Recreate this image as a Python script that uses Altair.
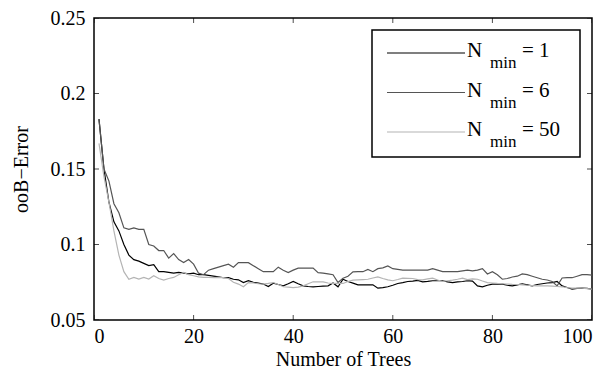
import altair as alt
import pandas as pd

# ---- data ----
trees = list(range(1, 101))

err_n1 = [0.183, 0.150, 0.128, 0.115, 0.109, 0.100, 0.093, 0.090, 0.089, 0.0875,
          0.086, 0.0866, 0.082, 0.082, 0.0815, 0.081, 0.0815, 0.081, 0.0805, 0.081,
          0.080, 0.080, 0.0795, 0.079, 0.0785, 0.078, 0.078, 0.077, 0.0766, 0.0748,
          0.076, 0.075, 0.0745, 0.0738, 0.0722, 0.0744, 0.0735, 0.0726, 0.074, 0.0755,
          0.074, 0.0726, 0.0722, 0.072, 0.0722, 0.0724, 0.0726, 0.0745, 0.072, 0.077,
          0.0755, 0.0744, 0.0733, 0.0733, 0.0733, 0.0733, 0.0711, 0.0715, 0.072, 0.073,
          0.0742, 0.0748, 0.0755, 0.0758, 0.0762, 0.0753, 0.0756, 0.076, 0.076, 0.076,
          0.0752, 0.0748, 0.0752, 0.0755, 0.076, 0.0758, 0.0726, 0.072, 0.073, 0.0737,
          0.0737, 0.0737, 0.073, 0.0726, 0.0733, 0.074, 0.0733, 0.0726, 0.0735, 0.074,
          0.0745, 0.0748, 0.0755, 0.0726, 0.0715, 0.0705, 0.071, 0.0711, 0.071, 0.0705]

err_n6 = [0.183, 0.150, 0.142, 0.127, 0.121, 0.111, 0.110, 0.111, 0.110, 0.110,
          0.100, 0.099, 0.096, 0.096, 0.091, 0.094, 0.090, 0.088, 0.090, 0.087,
          0.081, 0.080, 0.083, 0.084, 0.085, 0.086, 0.087, 0.085, 0.088, 0.088,
          0.088, 0.086, 0.084, 0.082, 0.082, 0.082, 0.085, 0.083, 0.0814, 0.083,
          0.0843, 0.0843, 0.0844, 0.0844, 0.0814, 0.081, 0.0805, 0.080, 0.0748, 0.0777,
          0.079, 0.0819, 0.082, 0.082, 0.0835, 0.082, 0.084, 0.0845, 0.0858, 0.084,
          0.0835, 0.083, 0.083, 0.083, 0.083, 0.083, 0.083, 0.084, 0.083, 0.082,
          0.082, 0.082, 0.082, 0.0825, 0.083, 0.0825, 0.083, 0.084, 0.0805, 0.082,
          0.080, 0.077, 0.0775, 0.0785, 0.079, 0.0805, 0.080, 0.079, 0.078, 0.077,
          0.0765, 0.0755, 0.0726, 0.0778, 0.078, 0.078, 0.079, 0.080, 0.080, 0.0797]

err_n50 = [0.167, 0.145, 0.128, 0.109, 0.093, 0.082, 0.077, 0.0782, 0.0771, 0.0782,
           0.0771, 0.0793, 0.0775, 0.0764, 0.0775, 0.0782, 0.080, 0.0815, 0.080, 0.0793,
           0.0786, 0.0782, 0.0782, 0.078, 0.0782, 0.078, 0.0775, 0.075, 0.0738, 0.072,
           0.0748, 0.0745, 0.074, 0.0737, 0.0742, 0.0748, 0.0735, 0.072, 0.0718, 0.0715,
           0.0718, 0.0726, 0.074, 0.0753, 0.0753, 0.0753, 0.0745, 0.0742, 0.0742, 0.0742,
           0.0755, 0.0764, 0.0766, 0.0768, 0.077, 0.0778, 0.0786, 0.0775, 0.0766, 0.076,
           0.0768, 0.0777, 0.0776, 0.0775, 0.0768, 0.0766, 0.0772, 0.0777, 0.0765, 0.0755,
           0.076, 0.0764, 0.077, 0.0777, 0.0768, 0.0772, 0.077, 0.0758, 0.0748, 0.0745,
           0.0742, 0.074, 0.0738, 0.0736, 0.0735, 0.0733, 0.073, 0.0728, 0.0726, 0.0726,
           0.0726, 0.0724, 0.0722, 0.072, 0.0715, 0.0711, 0.0711, 0.0711, 0.0708, 0.0705]

nmin_values = ["1", "6", "50"]
series_names = ["N_min = 1", "N_min = 6", "N_min = 50"]
colors = ["#000000", "#555555", "#b4b4b4"]

x_ticks = [0, 20, 40, 60, 80, 100]
y_ticks = [0.05, 0.1, 0.15, 0.2, 0.25]

# ---- layout ----
W, H = 498, 302
FONT = "Liberation Serif"

frames = []
for name, vals in zip(series_names, [err_n1, err_n6, err_n50]):
    frames.append(pd.DataFrame({"trees": trees, "err": vals, "series": name}))
df = pd.concat(frames, ignore_index=True)

x_scale = alt.Scale(domain=[0, 100], nice=False)
y_scale = alt.Scale(domain=[0.05, 0.25], nice=False, zero=False)

lines = alt.Chart(df).mark_line(strokeWidth=1.2, clip=True).encode(
    x=alt.X("trees:Q", scale=x_scale,
            axis=alt.Axis(values=x_ticks, title="Number of Trees", labelPadding=6,
                          titlePadding=3)),
    y=alt.Y("err:Q", scale=y_scale,
            axis=alt.Axis(values=y_ticks, format="~g", title="ooB\u2212Error",
                          labelPadding=9, titlePadding=19)),
    color=alt.Color("series:N", scale=alt.Scale(domain=series_names, range=colors),
                    legend=None),
    order=alt.Order("trees:Q"),
)

# inward ticks on all four sides (clipped to plot area)
xt = pd.DataFrame({"trees": x_ticks})
yt = pd.DataFrame({"err": y_ticks})
tick_style = dict(color="black", thickness=1, size=10, clip=True)
bottom_ticks = alt.Chart(xt).mark_tick(orient="vertical", **tick_style).encode(
    x="trees:Q", y=alt.value(H))
top_ticks = alt.Chart(xt).mark_tick(orient="vertical", **tick_style).encode(
    x="trees:Q", y=alt.value(0))
left_ticks = alt.Chart(yt).mark_tick(orient="horizontal", **tick_style).encode(
    y="err:Q", x=alt.value(0))
right_ticks = alt.Chart(yt).mark_tick(orient="horizontal", **tick_style).encode(
    y="err:Q", x=alt.value(W))

# legend box
one = pd.DataFrame({"a": [0]})
box = alt.Chart(one).mark_rect(fill="white", stroke="black", strokeWidth=1.5).encode(
    x=alt.value(278), x2=alt.value(486), y=alt.value(12), y2=alt.value(139))

legend_layers = [box]
for i, (val, col) in enumerate(zip(nmin_values, colors)):
    ly = 35 + 39.5 * i
    row = pd.DataFrame({"label": [val]})
    legend_layers.append(
        alt.Chart(row).mark_rule(color=col, strokeWidth=1.2).encode(
            x=alt.value(293), x2=alt.value(371), y=alt.value(ly)))
    legend_layers.append(
        alt.Chart(row).mark_text(text="N", align="left", baseline="alphabetic",
                                 font=FONT, fontSize=21, color="black").encode(
            x=alt.value(373), y=alt.value(ly + 4)))
    legend_layers.append(
        alt.Chart(row).mark_text(text="min", align="left", baseline="alphabetic",
                                 font=FONT, fontSize=17, color="black").encode(
            x=alt.value(396), y=alt.value(ly + 15)))
    legend_layers.append(
        alt.Chart(row).mark_text(align="left", baseline="alphabetic",
                                 font=FONT, fontSize=21, color="black").encode(
            text=alt.Text("label:N"), x=alt.value(428), y=alt.value(ly + 4))
        .transform_calculate(label="'= ' + datum.label"))

chart = alt.layer(
    lines, bottom_ticks, top_ticks, left_ticks, right_ticks, *legend_layers
).properties(
    width=W, height=H,
    padding={"left": 86, "top": 10, "right": 10, "bottom": 51},
    autosize=alt.AutoSizeParams(type="none"),
    background="white",
).configure_view(
    stroke="black", strokeWidth=1.5
).configure_axis(
    grid=False, ticks=False, domain=False,
    labelFont=FONT, labelFontSize=20, labelColor="black",
    titleFont=FONT, titleFontSize=20, titleColor="black", titleFontWeight="normal",
)

chart.save("out.html", embed_options={"renderer": "svg", "actions": False})
